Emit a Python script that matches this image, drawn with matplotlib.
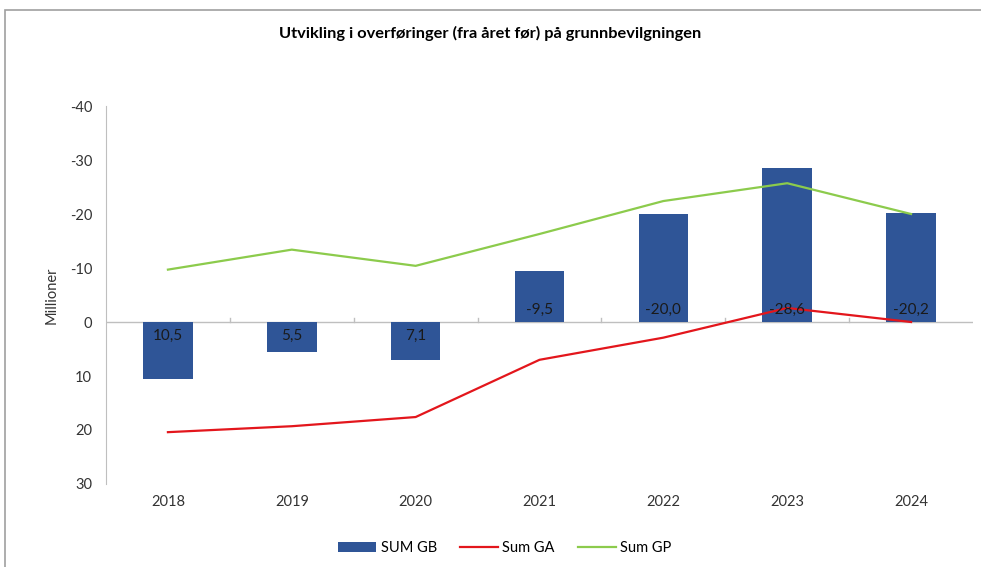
import matplotlib
matplotlib.use("Agg")
import matplotlib.pyplot as plt
from matplotlib.patches import Rectangle
import numpy as np

plt.rcParams['font.family'] = ['Lato', 'DejaVu Sans']

years = ["2018", "2019", "2020", "2021", "2022", "2023", "2024"]
sum_gb = [10.5, 5.5, 7.1, -9.5, -20.0, -28.6, -20.2]
sum_ga = [20.4, 19.3, 17.6, 7.0, 2.9, -2.6, 0.0]
sum_gp = [-9.7, -13.4, -10.4, -16.3, -22.4, -25.7, -20.0]
yticks = [-40, -30, -20, -10, 0, 10, 20, 30]

fig = plt.figure(figsize=(9.81, 5.67), dpi=100)
ax = fig.add_axes([106/981, 1-484/567, (973-106)/981, (484-106)/567])

x = np.arange(len(years))
bars = ax.bar(x, sum_gb, width=0.4, color='#2F5597', label='SUM GB', zorder=2)
ax.plot(x, sum_ga, color='#E3161C', lw=1.6, label='Sum GA', zorder=3)
ax.plot(x, sum_gp, color='#8CCB4C', lw=1.6, label='Sum GP', zorder=3)

for xi, v in zip(x, sum_gb):
    lab = f"{v:.1f}".replace('.', ',')
    if v >= 0:
        ax.text(xi, 1.2, lab, ha='center', va='top', fontsize=11, color='#1a1a1a', zorder=4)
    else:
        ax.text(xi, -1.0, lab, ha='center', va='bottom', fontsize=11, color='#1a1a1a', zorder=4)

ax.set_ylim(30, -40)
ax.set_xlim(-0.5, len(years) - 0.5)
ax.set_yticks(yticks)
ax.set_yticklabels([str(t) for t in yticks], fontsize=10.5, color='#333333')
ax.tick_params(axis='y', length=0, pad=10)
ax.set_xticks(x)
ax.set_xticklabels(years, fontsize=10.5, color='#333333')
ax.tick_params(axis='x', length=0, pad=8)
for s in ['top', 'right', 'bottom']:
    ax.spines[s].set_visible(False)
ax.spines['left'].set_color('#BFBFBF')
ax.axhline(0, color='#BFBFBF', lw=1, zorder=1)
for b in np.arange(0.5, len(years) - 0.5, 1):
    ax.plot([b, b], [0, -0.7], color='#BFBFBF', lw=1, zorder=1)

ax.set_ylabel('Millioner', fontsize=10.5, color='#333333', labelpad=8)

fig.text(0.5, 1-33/567, 'Utvikling i overføringer (fra året før) på grunnbevilgningen',
         ha='center', va='center', fontsize=11.8, fontweight='bold')

handles, labels = ax.get_legend_handles_labels()
order = [2, 0, 1]
fig.legend([handles[i] for i in order], [labels[i] for i in order],
           loc='center', bbox_to_anchor=(505/981, 1-548/567), ncol=3, frameon=False,
           fontsize=10.5, handlelength=2.6, handletextpad=0.3, columnspacing=1.6)

fig.patches.append(Rectangle((5/981, -0.01), 1.0, 1-10/567 + 0.01, transform=fig.transFigure,
                             fill=False, edgecolor='#A0A0A0', lw=1.2))

fig.savefig('out.png', dpi=100)
